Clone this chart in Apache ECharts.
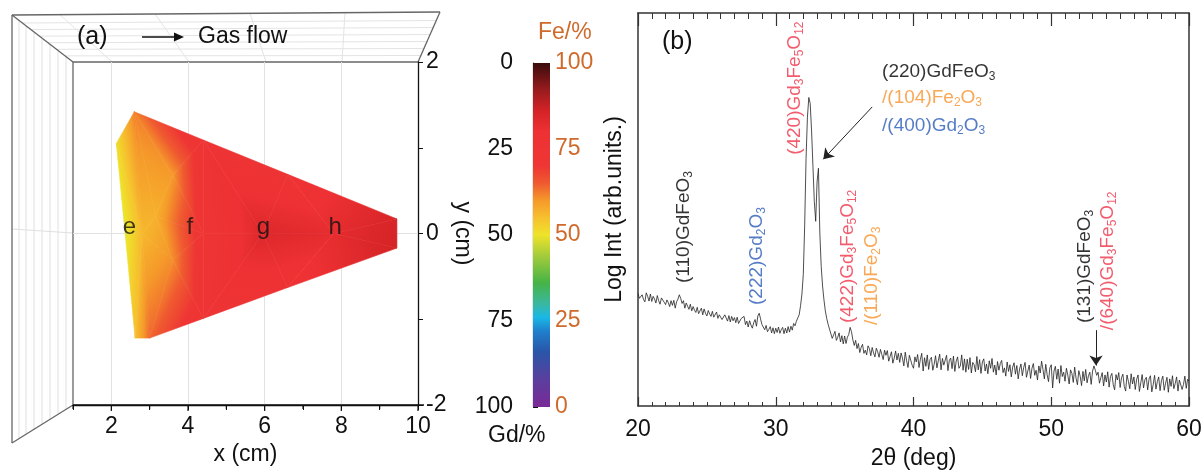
<!DOCTYPE html>
<html>
<head>
<meta charset="utf-8">
<script src="https://cdn.jsdelivr.net/npm/echarts@6/dist/echarts.min.js"></script>
<style>
html, body { margin: 0; padding: 0; background: #fff; }
#chart { width: 1204px; height: 472px; }
</style>
</head>
<body>
<div id="chart"></div>
<script>
// panel (a): sampled composition map, x (cm), y (cm), Fe (%)
const mapX  = [2.60, 2.13, 2.36, 2.62, 3.00, 2.80, 3.60, 3.15, 3.60, 4.40, 4.40, 4.40, 5.95, 6.60, 6.60, 7.80, 9.45, 9.45];
const mapY  = [1.42, 1.05, 0.00, -1.22, -1.22, 0.00, 0.68, 0.20, -0.31, 0.00, 1.09, -0.99, 0.00, 0.69, -0.63, 0.00, 0.17, -0.17];
const mapFe = [62, 51, 49, 55, 64, 56, 60, 57, 61, 73, 75, 74, 84, 77, 78, 82, 85, 86];
const mapTriangles = [
  [1, 2, 5], [1, 5, 0], [2, 3, 5], [3, 4, 5], [0, 5, 7], [0, 7, 6], [0, 6, 10],
  [5, 8, 7], [5, 4, 8], [4, 11, 8], [7, 6, 9], [7, 9, 8], [6, 10, 9], [8, 9, 11],
  [10, 9, 12], [10, 12, 13], [9, 11, 12], [11, 14, 12], [13, 12, 15], [12, 14, 15],
  [13, 15, 16], [14, 17, 15], [15, 16, 17]
];
const siteNames = ['e', 'f', 'g', 'h'];
const siteX = [2.47, 4.05, 5.97, 7.84];
const mapGridX = [2, 4, 6, 8];

// panel (b): XRD pattern, 2theta from 20 to 60 deg every 0.1 deg
const xrdStart = 20;
const xrdStep = 0.1;
const xrdIntensity = [
  28.6, 27.4, 26.9, 28.3, 27.1, 26.5, 28.8, 27.9, 26.7, 28.5,
  26.6, 27.9, 27.2, 26.2, 28.1, 26.8, 25.9, 27.5, 27.8, 26.4,
  25.8, 27.0, 26.3, 25.3, 26.8, 25.6, 26.9, 24.9, 26.5, 27.2,
  28.3, 27.4, 26.1, 26.8, 24.9, 26.2, 25.4, 24.6, 25.9, 24.2,
  25.3, 24.4, 23.8, 25.1, 23.5, 24.0, 24.9, 23.2, 24.7, 23.6,
  22.9, 24.3, 23.4, 22.8, 24.1, 22.6, 23.0, 23.9, 22.3, 23.2,
  23.4, 22.0, 21.9, 23.2, 22.4, 21.6, 23.0, 21.4, 22.8, 21.7,
  22.5, 21.2, 22.6, 21.0, 20.6, 22.3, 21.9, 22.8, 20.7, 21.6,
  20.1, 21.7, 20.6, 19.8, 21.2, 22.0, 20.3, 22.9, 23.6, 22.1,
  20.7, 21.0, 19.4, 20.5, 18.9, 19.5, 20.2, 18.6, 19.9, 18.4,
  19.8, 18.7, 20.1, 18.5, 19.4, 20.0, 18.4, 19.8, 18.6, 20.2,
  18.8, 20.3, 19.3, 21.0, 20.4, 21.6, 22.4, 23.2, 25.5, 28.5,
  33.5, 46.0, 63.0, 73.5, 78.5, 77.0, 70.0, 61.0, 52.0, 47.0,
  57.0, 60.5, 44.0, 35.5, 30.5, 27.0, 24.2, 22.3, 20.8, 19.6,
  19.4, 17.2, 18.1, 19.0, 16.7, 17.5, 18.6, 16.3, 17.9, 15.8,
  17.8, 15.9, 17.5, 18.2, 20.0, 18.9, 16.8, 15.4, 16.7, 14.6,
  15.9, 13.6, 14.9, 15.7, 13.4, 14.2, 13.0, 15.3, 14.6, 12.8,
  14.9, 13.5, 12.5, 14.7, 13.8, 12.4, 14.4, 13.1, 11.8, 14.2,
  12.9, 14.1, 11.4, 12.6, 13.8, 10.9, 12.2, 14.0, 11.7, 13.4,
  11.1, 13.5, 12.2, 10.2, 13.7, 11.5, 9.8, 12.9, 13.3, 10.4,
  9.6, 12.5, 11.2, 13.1, 9.8, 11.9, 13.4, 8.9, 12.3, 10.1,
  13.0, 9.3, 11.8, 12.4, 9.1, 10.6, 12.8, 9.7, 11.5, 13.2,
  9.2, 12.1, 10.4, 9.9, 12.9, 9.0, 11.6, 12.2, 9.5, 12.7,
  8.8, 11.4, 12.5, 9.6, 10.2, 13.0, 9.1, 12.0, 8.6, 11.9,
  9.3, 12.3, 8.4, 11.1, 10.5, 8.7, 12.6, 9.2, 11.8, 8.3,
  11.2, 12.0, 8.9, 10.7, 8.2, 11.5, 9.6, 12.1, 8.6, 10.4,
  7.9, 11.3, 9.1, 10.8, 11.6, 8.5, 9.7, 7.6, 11.2, 8.8,
  10.5, 7.4, 9.9, 11.0, 8.1, 10.3, 6.9, 9.4, 10.7, 7.7,
  9.8, 11.1, 7.3, 8.9, 10.4, 7.0, 9.6, 10.8, 7.8, 9.1,
  6.6, 10.2, 8.4, 11.4, 9.3, 6.9, 10.6, 8.0, 6.2, 9.7,
  10.5, 4.6, 8.9, 10.1, 6.8, 9.4, 5.8, 10.3, 7.5, 8.6,
  6.3, 9.6, 7.9, 5.6, 9.2, 8.3, 6.0, 9.9, 7.1, 5.4,
  9.0, 7.6, 5.2, 8.8, 6.4, 9.3, 5.9, 7.7, 8.6, 5.5,
  8.9, 10.2, 9.1, 7.8, 8.6, 5.8, 7.2, 8.5, 5.1, 7.9,
  6.1, 8.7, 4.8, 7.5, 8.3, 5.4, 4.1, 8.0, 6.6, 8.5,
  4.7, 7.2, 8.1, 5.0, 3.8, 7.9, 6.3, 4.4, 8.2, 5.6,
  7.4, 4.2, 6.8, 7.9, 3.7, 5.9, 8.0, 4.6, 6.7, 7.3,
  4.1, 6.9, 7.7, 3.6, 5.4, 7.8, 4.3, 6.2, 7.4, 3.9,
  6.5, 7.6, 4.0, 5.8, 7.3, 3.5, 6.9, 5.0, 7.7, 4.4,
  5.7, 7.4, 3.8, 6.6, 7.1, 4.2, 5.5, 7.6, 4.5, 6.8,
  6.3
];

// peak labels: rich text, phase, anchor (2theta, intensity), vertical or not
const peakNotes = [
  { text: '(110)GdFeO{s|3}', phase: 'GdFeO3', at: [23.35, 31.3], up: true },
  { text: '(222)Gd{s|2}O{s|3}', phase: 'Gd2O3', at: [28.65, 25.7], up: true },
  { text: '(420)Gd{s|3}Fe{s|5}O{s|12}', phase: 'Gd3Fe5O12', at: [31.35, 63.9], up: true },
  { text: '(220)GdFeO{s|3}', phase: 'GdFeO3', at: [37.72, 85.0], up: false },
  { text: '/(104)Fe{s|2}O{s|3}', phase: 'Fe2O3', at: [37.72, 78.4], up: false },
  { text: '/(400)Gd{s|2}O{s|3}', phase: 'Gd2O3', at: [37.72, 71.2], up: false },
  { text: '(422)Gd{s|3}Fe{s|5}O{s|12}', phase: 'Gd3Fe5O12', at: [35.25, 21.1], up: true },
  { text: '/(110)Fe{s|2}O{s|3}', phase: 'Fe2O3', at: [36.95, 20.6], up: true },
  { text: '(131)GdFeO{s|3}', phase: 'GdFeO3', at: [52.4, 21.1], up: true },
  { text: '/(640)Gd{s|3}Fe{s|5}O{s|12}', phase: 'Gd3Fe5O12', at: [54.1, 19.3], up: true }
];
const phaseColor = { GdFeO3: '#000000', Gd2O3: '#2a5bb8', Gd3Fe5O12: '#ef3349', Fe2O3: '#f7922d' };

const FONT = '"Liberation Sans", Arial, sans-serif';

// colour scale of the map, Fe % -> colour
const cmap = [
  [0, '#7a2a96'], [8, '#5a3f9e'], [16, '#2a55a8'], [22, '#1f7fcc'], [26, '#1ab8e6'],
  [30, '#3ab8a0'], [36, '#45b347'], [44, '#a4cc3a'], [50, '#eee32a'], [55, '#f6c02e'],
  [60, '#f59a2a'], [65, '#ef5a30'], [70, '#ee3634'], [80, '#ee3134'], [86, '#d42326'],
  [92, '#9a1c1e'], [100, '#3a0c0c']
];
function hexRgb (h) {
  return [parseInt(h.slice(1, 3), 16), parseInt(h.slice(3, 5), 16), parseInt(h.slice(5, 7), 16)];
}
function feColor (v) {
  v = Math.max(0, Math.min(100, v));
  for (let i = 1; i < cmap.length; i++) {
    if (v <= cmap[i][0]) {
      const a = cmap[i - 1], b = cmap[i];
      const t = (v - a[0]) / (b[0] - a[0]);
      const ca = hexRgb(a[1]), cb = hexRgb(b[1]);
      const c = ca.map((x, k) => Math.round(x + (cb[k] - x) * t));
      return 'rgb(' + c.join(',') + ')';
    }
  }
  return cmap[cmap.length - 1][1];
}

// linear shading across one triangle (value is linear inside it)
function triangleGradient (p, v) {
  const dx1 = p[1][0] - p[0][0], dy1 = p[1][1] - p[0][1];
  const dx2 = p[2][0] - p[0][0], dy2 = p[2][1] - p[0][1];
  const dv1 = v[1] - v[0], dv2 = v[2] - v[0];
  const det = dx1 * dy2 - dy1 * dx2;
  const lo = Math.min(v[0], v[1], v[2]), hi = Math.max(v[0], v[1], v[2]);
  if (Math.abs(det) < 1e-6 || hi - lo < 1e-6) return feColor(lo);
  const gx = (dv1 * dy2 - dy1 * dv2) / det;
  const gy = (dx1 * dv2 - dv1 * dx2) / det;
  const s = (hi - lo) / (gx * gx + gy * gy);
  const i0 = v.indexOf(lo);
  const x0 = p[i0][0], y0 = p[i0][1];
  const stops = [{ offset: 0, color: feColor(lo) }];
  cmap.forEach(function (c) {
    if (c[0] > lo && c[0] < hi) stops.push({ offset: (c[0] - lo) / (hi - lo), color: feColor(c[0]) });
  });
  stops.push({ offset: 1, color: feColor(hi) });
  return new echarts.graphic.LinearGradient(x0, y0, x0 + gx * s, y0 + gy * s, stops, true);
}

const triData = mapTriangles.map(function (t) {
  const d = [];
  t.forEach(function (i) { d.push(mapX[i], mapY[i], mapFe[i]); });
  return d;
});

const xrdData = xrdIntensity.map((v, i) => [+(xrdStart + i * xrdStep).toFixed(2), v]);

// colour bar gradient, top = Fe 100
const barStops = cmap.map(c => ({ offset: 1 - c[0] / 100, color: c[1] })).reverse();

// perspective box behind panel (a), pure decoration
const box = [];
function seg (x1, y1, x2, y2, color, w, z) {
  box.push({ type: 'line', z: z || 0, shape: { x1: x1, y1: y1, x2: x2, y2: y2 }, style: { stroke: color, lineWidth: w }, silent: true });
}
[19, 26, 34, 42, 50, 58, 66].forEach(function (x) {
  seg(x, 15 + (x - 12) * 47 / 61, x, 443 - (x - 12) * 38 / 61, '#e0e0e0', 1);
});
seg(12, 229, 73, 233, '#e0e0e0', 1);
[0.13, 0.27, 0.41, 0.55, 0.69, 0.83].forEach(function (t) {
  seg(73 - 61 * t, 62 - 47 * t, 418 + 22 * t, 62 - 50 * t, '#e4e4e4', 1);
});
[[112, 60], [189, 155], [266, 250], [342, 345]].forEach(function (p) {
  seg(p[0], 62, p[1], 15 - (p[1] - 12) * 3 / 428, '#e4e4e4', 1);
});
seg(73, 62, 12, 15, '#666', 1.3);
seg(12, 15, 12, 443, '#666', 1.3);
seg(12, 443, 73, 405, '#666', 1.3);
seg(12, 15, 440, 12, '#666', 1.3);
seg(440, 12, 418, 62, '#666', 1.3);
seg(73, 62, 418, 62, '#666', 1.3);
seg(73, 62, 73, 405, '#666', 1.3);
// front bottom edge of the box with its tick marks (follows the x axis frame)
seg(73, 405, 424, 405, '#111', 1.3, 50);
for (let k = 0; k <= 9; k++) {
  const px = 73 + k * 345 / 9;
  seg(px, 405, px, k % 2 === 1 ? 411 : 409, '#111', 1.2, 50);
}

const chart = echarts.init(document.getElementById('chart'));
chart.setOption({
  animation: false,
  backgroundColor: '#fff',
  textStyle: { fontFamily: FONT },
  graphic: box.concat([
    { type: 'text', left: 77, top: 25, style: { text: '(a)', font: '25px ' + FONT, fill: '#111' } },
    { type: 'line', shape: { x1: 142, y1: 37, x2: 176, y2: 37 }, style: { stroke: '#111', lineWidth: 1.6 } },
    { type: 'polygon', shape: { points: [[174, 32.5], [184, 37], [174, 41.5]] }, style: { fill: '#111' } },
    { type: 'text', left: 198, top: 25, style: { text: 'Gas flow', font: '23px ' + FONT, fill: '#111' } },
    { type: 'text', left: 662, top: 30, style: { text: '(b)', font: '25px ' + FONT, fill: '#111' } },
    { type: 'text', left: 538, top: 21, style: { text: 'Fe/%', font: '23px ' + FONT, fill: '#cf6a2c' } },
    { type: 'text', left: 488, top: 424, style: { text: 'Gd/%', font: '23px ' + FONT, fill: '#111' } }
  ]),
  grid: [
    { left: 73, top: 62, width: 345, height: 343, outerBoundsMode: 'none' },
    { left: 533, top: 63, width: 17, height: 344, outerBoundsMode: 'none' },
    { left: 638, top: 13, width: 551, height: 393, outerBoundsMode: 'none' }
  ],
  xAxis: [
    {
      gridIndex: 0, type: 'value', min: 1, max: 10, interval: 1,
      axisLine: { show: true, onZero: false, lineStyle: { color: '#111', width: 1.3 } },
      axisTick: { show: true, length: 5, lineStyle: { color: '#111' } },
      axisLabel: { fontSize: 23, color: '#111', margin: 10, formatter: v => (v % 2 === 0 ? String(v) : '') },
      splitLine: { show: false },
      name: 'x (cm)', nameLocation: 'middle', nameGap: 35,
      nameTextStyle: { fontSize: 23, color: '#111' }
    },
    { gridIndex: 1, type: 'category', data: ['bar'], show: false },
    {
      gridIndex: 2, type: 'value', min: 20, max: 60, interval: 10, position: 'bottom',
      axisLine: { onZero: false, lineStyle: { color: '#333', width: 1.5 } },
      axisTick: { inside: true, length: 9, lineStyle: { color: '#333', width: 1.2 } },
      minorTick: { show: true, splitNumber: 10, length: 4, lineStyle: { color: '#333', width: 1 } },
      axisLabel: { fontSize: 23, color: '#111', margin: 12 },
      splitLine: { show: false }, minorSplitLine: { show: false },
      name: '2θ (deg)', nameLocation: 'middle', nameGap: 41,
      nameTextStyle: { fontSize: 23, color: '#111' }
    },
    {
      gridIndex: 2, type: 'value', min: 20, max: 60, interval: 10, position: 'top',
      axisLine: { onZero: false, lineStyle: { color: '#333', width: 1.5 } },
      axisTick: { inside: true, length: 13, lineStyle: { color: '#333', width: 1.2 } },
      minorTick: { show: true, splitNumber: 10, length: 6, lineStyle: { color: '#333', width: 1 } },
      axisLabel: { show: false }, splitLine: { show: false }
    }
  ],
  yAxis: [
    {
      gridIndex: 0, type: 'value', min: -2, max: 2, interval: 1, position: 'right',
      axisLine: { show: true, onZero: false, lineStyle: { color: '#111', width: 1.3 } },
      axisTick: { show: true, length: 5, lineStyle: { color: '#111' } },
      axisLabel: { fontSize: 23, color: '#111', margin: 8, formatter: v => (v % 2 === 0 ? String(v) : '') },
      splitLine: { show: false },
      name: 'y (cm)', nameLocation: 'middle', nameRotate: -90, nameGap: 33,
      nameTextStyle: { fontSize: 23, color: '#111' }
    },
    {
      gridIndex: 1, type: 'value', min: 0, max: 100, interval: 25, inverse: true, position: 'left',
      axisLine: { show: true, onZero: false, lineStyle: { color: '#111', width: 1.2 } },
      axisTick: { show: true, inside: true, length: 5, lineStyle: { color: '#111' } },
      axisLabel: { fontSize: 23, color: '#111', margin: 20 },
      splitLine: { show: false }
    },
    {
      gridIndex: 1, type: 'value', min: 0, max: 100, interval: 25, position: 'right',
      axisLine: { show: false }, axisTick: { show: false },
      axisLabel: { fontSize: 23, color: '#cf6a2c', margin: 5 },
      splitLine: { show: false }
    },
    {
      gridIndex: 2, type: 'value', min: 0, max: 100, position: 'left',
      axisLine: { show: true, onZero: false, lineStyle: { color: '#333', width: 1.5 } },
      axisTick: { show: false }, axisLabel: { show: false }, splitLine: { show: false },
      name: 'Log Int (arb.units.)', nameLocation: 'middle', nameRotate: 90, nameGap: 12,
      nameTextStyle: { fontSize: 23, color: '#111' }
    },
    {
      gridIndex: 2, type: 'value', min: 0, max: 100, position: 'right',
      axisLine: { show: true, onZero: false, lineStyle: { color: '#333', width: 1.5 } },
      axisTick: { show: false }, axisLabel: { show: false }, splitLine: { show: false }
    }
  ],
  series: [
    {
      type: 'custom', xAxisIndex: 0, yAxisIndex: 0, data: triData, silent: true, z: 3,
      renderItem: function (params, api) {
        const pts = [], vals = [];
        for (let k = 0; k < 3; k++) {
          pts.push(api.coord([api.value(k * 3), api.value(k * 3 + 1)]));
          vals.push(api.value(k * 3 + 2));
        }
        const fill = triangleGradient(pts, vals);
        return { type: 'polygon', shape: { points: pts }, style: { fill: fill, stroke: fill, lineWidth: 0.6 } };
      },
      markLine: {
        silent: true, symbol: 'none', label: { show: false }, animation: false, z: 1,
        lineStyle: { color: '#e2e2e2', type: 'solid', width: 1 },
        data: mapGridX.map(x => ({ xAxis: x })).concat([{ yAxis: 0 }])
      }
    },
    {
      type: 'scatter', xAxisIndex: 0, yAxisIndex: 0, z: 4, silent: true,
      symbolSize: 1, itemStyle: { color: 'rgba(0,0,0,0)' },
      data: siteX.map((x, i) => ({ value: [x, 0.07], name: siteNames[i] })),
      label: { show: true, position: 'inside', formatter: p => p.name, fontSize: 24, color: '#111' }
    },
    {
      type: 'bar', xAxisIndex: 1, yAxisIndex: 2, data: [100], barWidth: '100%', silent: true,
      itemStyle: { color: new echarts.graphic.LinearGradient(0, 0, 0, 1, barStops) }
    },
    {
      type: 'line', xAxisIndex: 2, yAxisIndex: 3, data: xrdData, symbol: 'none', silent: true, z: 2,
      lineStyle: { color: '#222', width: 0.8 },
      markLine: {
        silent: true, symbol: ['none', 'arrow'], symbolSize: 10, label: { show: false }, animation: false,
        lineStyle: { color: '#222', width: 1, type: 'solid' },
        data: [
          [{ coord: [37.0, 76.1] }, { coord: [33.45, 62.8] }],
          [{ coord: [53.25, 19.3] }, { coord: [53.25, 10.3] }]
        ]
      }
    },
    {
      type: 'scatter', xAxisIndex: 2, yAxisIndex: 3, z: 4, silent: true,
      symbolSize: 1, itemStyle: { color: 'rgba(0,0,0,0)' },
      data: peakNotes.map(n => ({
        value: n.at, name: n.text,
        label: { color: phaseColor[n.phase], rotate: n.up ? 90 : 0 }
      })),
      label: {
        show: true, position: 'inside', align: 'left', verticalAlign: 'middle',
        formatter: p => p.name, fontSize: 19, lineHeight: 22,
        rich: { s: { fontSize: 12, lineHeight: 12, padding: [6, 0, 0, 0], verticalAlign: 'bottom' } }
      }
    }
  ]
});
</script>
</body>
</html>
